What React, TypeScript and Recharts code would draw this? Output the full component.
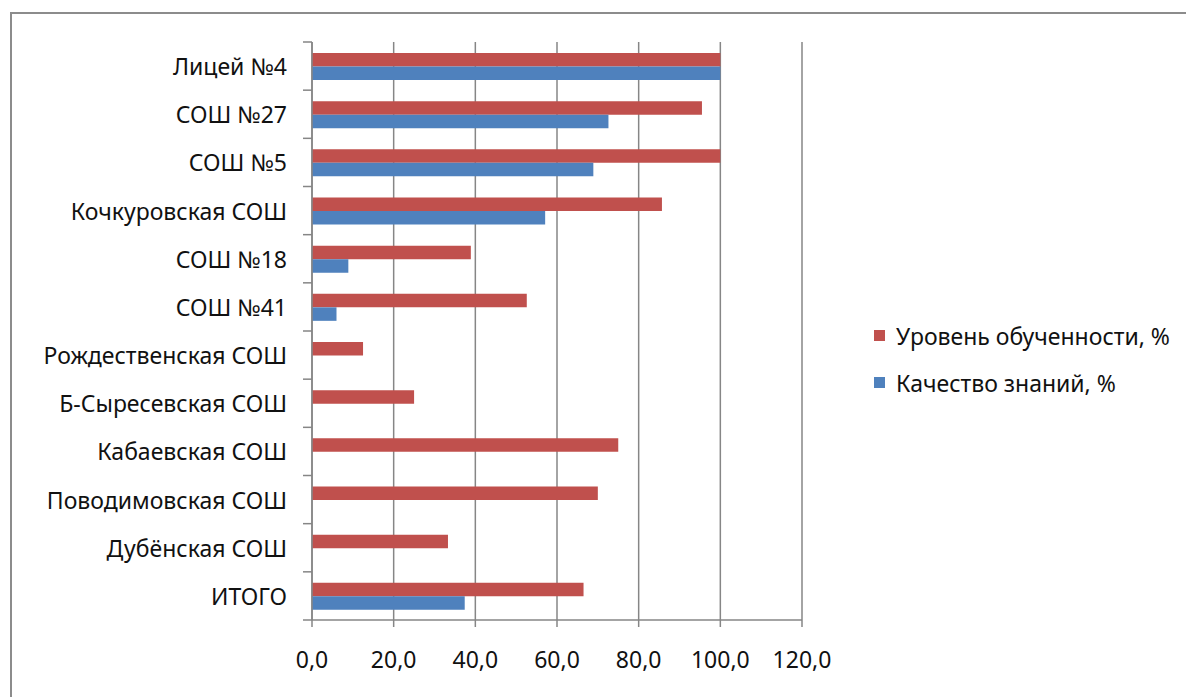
import React from 'react';
import { BarChart, Bar, XAxis, YAxis, CartesianGrid, Legend } from 'recharts';

// Школы (сверху вниз)
const schools = [
  'Лицей №4',
  'СОШ №27',
  'СОШ №5',
  'Кочкуровская СОШ',
  'СОШ №18',
  'СОШ №41',
  'Рождественская СОШ',
  'Б-Сыресевская СОШ',
  'Кабаевская СОШ',
  'Поводимовская СОШ',
  'Дубёнская СОШ',
  'ИТОГО',
];

// Уровень обученности, %
const levelValues = [100, 95.5, 100, 85.7, 38.9, 52.6, 12.5, 25, 75, 70, 33.3, 66.5];
// Качество знаний, %
const qualityValues = [100, 72.6, 68.9, 57.1, 8.9, 6.0, 0, 0, 0, 0, 0, 37.4];

const seriesNames = ['Уровень обученности, %', 'Качество знаний, %'];

const xTicks = [0, 20, 40, 60, 80, 100, 120];

const data = schools.map((name, i) => ({
  name,
  level: levelValues[i],
  quality: qualityValues[i],
}));

const W = 1186;
const H = 697;
const PLOT_LEFT = 312;
const PLOT_TOP = 42;
const PLOT_BOTTOM = 620;
const PLOT_RIGHT = 802;
const X_AXIS_H = 50;
const BAND = (PLOT_BOTTOM - PLOT_TOP) / schools.length;
const FONT = '"Noto Sans", sans-serif';
const FS = 23;
const AXIS = '#868686';
const RED = '#C0504D';
const BLUE = '#4F81BD';

function SchoolTick(props: any) {
  const { y, payload, index } = props;
  const last = index === schools.length - 1;
  return (
    <g>
      <text
        x={PLOT_LEFT - 25}
        y={y}
        textAnchor="end"
        dominantBaseline="central"
        fontFamily={FONT}
        fontSize={FS}
        fill="#111"
      >
        {payload.value}
      </text>
      <line x1={PLOT_LEFT - 9} x2={PLOT_LEFT} y1={y - BAND / 2} y2={y - BAND / 2} stroke={AXIS} strokeWidth={1.5} />
      {last && (
        <line x1={PLOT_LEFT - 9} x2={PLOT_LEFT} y1={y + BAND / 2} y2={y + BAND / 2} stroke={AXIS} strokeWidth={1.5} />
      )}
    </g>
  );
}

function renderLegend(props: any) {
  const items = [...(props.payload || [])].sort(
    (a: any, b: any) => seriesNames.indexOf(a.value) - seriesNames.indexOf(b.value)
  );
  return (
    <div style={{ fontFamily: FONT, fontSize: FS, color: '#111' }}>
      {items.map((entry: any) => (
        <div key={entry.value} style={{ display: 'flex', alignItems: 'center', height: 47 }}>
          <span style={{ display: 'inline-block', width: 11, height: 11, background: entry.color, marginRight: 11 }} />
          <span>{entry.value}</span>
        </div>
      ))}
    </div>
  );
}

export default function App() {
  return (
    <div style={{ position: 'absolute', left: 0, top: 0, width: W, height: H, overflow: 'hidden', background: '#fff' }}>
      <div
        style={{
          position: 'absolute',
          left: 10,
          top: 12,
          width: W + 20,
          height: H + 20,
          border: '2px solid #8c8c8c',
          boxSizing: 'border-box',
        }}
      />
      <div style={{ position: 'absolute', left: 0, top: 0 }}>
        <BarChart
          width={W}
          height={H}
          data={data}
          layout="vertical"
          margin={{ top: PLOT_TOP, right: W - PLOT_RIGHT, bottom: H - PLOT_BOTTOM - X_AXIS_H, left: 0 }}
          barGap={0}
        >
          <CartesianGrid horizontal={false} vertical={true} stroke={AXIS} strokeWidth={1.5} />
          <XAxis
            type="number"
            domain={[0, 120]}
            ticks={xTicks}
            interval={0}
            height={X_AXIS_H}
            tickFormatter={(v: number) => v.toFixed(1).replace('.', ',')}
            tickSize={7}
            tickMargin={25}
            stroke={AXIS}
            strokeWidth={1.5}
            tick={{ fill: '#111', fontSize: FS, fontFamily: FONT }}
          />
          <YAxis
            type="category"
            dataKey="name"
            width={PLOT_LEFT}
            tickLine={false}
            stroke={AXIS}
            strokeWidth={1.5}
            interval={0}
            tick={<SchoolTick />}
          />
          <Legend
            layout="vertical"
            verticalAlign="middle"
            align="center"
            content={renderLegend}
            wrapperStyle={{ left: 874, top: 312, width: 310 }}
          />
          <Bar dataKey="level" name={seriesNames[0]} fill={RED} barSize={13.5} isAnimationActive={false} />
          <Bar dataKey="quality" name={seriesNames[1]} fill={BLUE} barSize={13.5} isAnimationActive={false} />
        </BarChart>
      </div>
    </div>
  );
}
